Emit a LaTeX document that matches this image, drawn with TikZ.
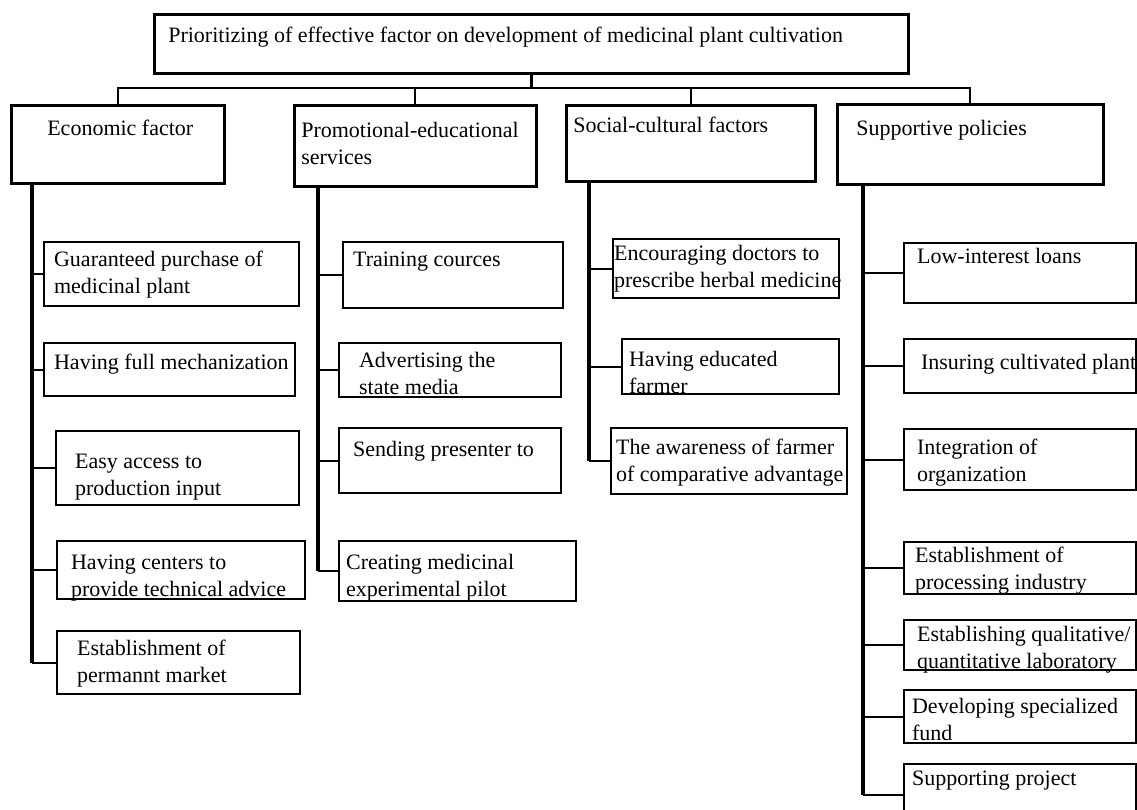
\documentclass[tikz,border=0pt]{standalone}
\usepackage{fontspec}
\setmainfont{Liberation Serif}
\usetikzlibrary{calc}
\tikzset{
  box/.style={draw=black,line width=2.2pt,inner sep=0pt,anchor=north west,font=\fontsize{22}{27}\selectfont},
  hbox/.style={box,line width=2.6pt},
  trunk/.style={draw=black,line width=3.2pt},
  link/.style={draw=black,line width=2pt},
}
% box from (x1,y1) to (x2,y2), text indent and first baseline
\newcommand{\tbox}[9][box]{%
  \pgfmathsetmacro\bw{#5-#3}%
  \pgfmathsetmacro\bd{#6-#4-#8}%
  \node[#1,text height=#8pt,text depth=\bd pt] (#2) at (#3,#4)
    {\makebox[\bw pt][l]{\begin{tabular}[t]{@{\hspace{#7pt}}l@{}}#9\end{tabular}}};%
}

\begin{document}
\begin{tikzpicture}[x=1pt,y=-1pt]
\useasboundingbox (0,0) rectangle (1137,809);
\clip (0,0) rectangle (1137,809);
\tbox[hbox]{root}{153}{13}{907}{72}{14}{28}{Prioritizing of effective factor on development of medicinal plant cultivation}
% main factors
\tbox[hbox]{eco}{10}{104}{223}{182}{36}{30}{Economic factor}
\tbox[hbox]{pro}{293}{104}{535}{185}{7}{32}{Promotional-educational\\services}
\tbox[hbox]{soc}{565}{104}{814}{180}{7}{27}{Social-cultural factors}
\tbox[hbox]{sup}{836}{103}{1102}{183}{19}{31}{Supportive policies}
\coordinate (bus) at ($(root.south)+(0,13)$);
\draw[trunk] (root.south) -- (bus);
\foreach \n in {eco,pro,soc,sup} \draw[link] (bus) -| (\n.north);
% economic
\tbox{eco1}{43}{241}{298}{305}{10}{24}{Guaranteed purchase of\\medicinal plant}
\tbox{eco2}{43}{342}{294}{395}{10}{26}{Having full mechanization}
\tbox{eco3}{55}{430}{298}{504}{19}{37}{Easy access to\\production input}
\tbox{eco4}{56}{540}{304}{598}{14}{28}{Having centers to\\provide technical advice}
\tbox{eco5}{56}{630}{299}{693}{20}{24}{Establishment of\\permannt market}
% promotional
\tbox{pro1}{342}{241}{562}{307}{10}{24}{Training cources}
\tbox{pro2}{338}{342}{560}{396}{20}{24}{Advertising the\\state media}
\tbox{pro3}{338}{427}{560}{492}{14}{28}{Sending presenter to}
\tbox{pro4}{338}{540}{575}{600}{7}{28}{Creating medicinal\\experimental pilot}
% social
\tbox{soc1}{612}{238}{838}{297}{1}{21}{Encouraging doctors to\\prescribe herbal medicine}
\tbox{soc2}{621}{338}{838}{393}{7}{27}{Having educated\\farmer}
\tbox{soc3}{610}{427}{846}{493}{5}{26}{The awareness of farmer\\of comparative advantage}
% supportive
\tbox{sup1}{903}{242}{1135}{302}{13}{20}{Low-interest loans}
\tbox{sup2}{903}{338}{1135}{392}{17}{30}{Insuring cultivated plant}
\tbox{sup3}{903}{428}{1135}{489}{13}{25}{Integration of\\organization}
\tbox{sup4}{903}{541}{1135}{593}{11}{20}{Establishment of\\processing industry}
\tbox{sup5}{903}{619}{1135}{669}{13}{21}{Establishing qualitative/\\quantitative laboratory}
\tbox{sup6}{903}{689}{1135}{742}{8}{23}{Developing specialized\\fund}
\tbox{sup7}{903}{763}{1135}{825}{8}{21}{Supporting project}
\foreach \col/\dx/\last in {eco/22/5,pro/25/4,soc/24/3,sup/27/7}{
  \coordinate (t\col) at ($(\col.south west)+(\dx,0)$);
  \draw[trunk] (t\col) -- (t\col |- \col\last.west);
  \foreach \i in {1,...,\last} \draw[link] (t\col |- \col\i.west) -- (\col\i.west);
}
\end{tikzpicture}
\end{document}
